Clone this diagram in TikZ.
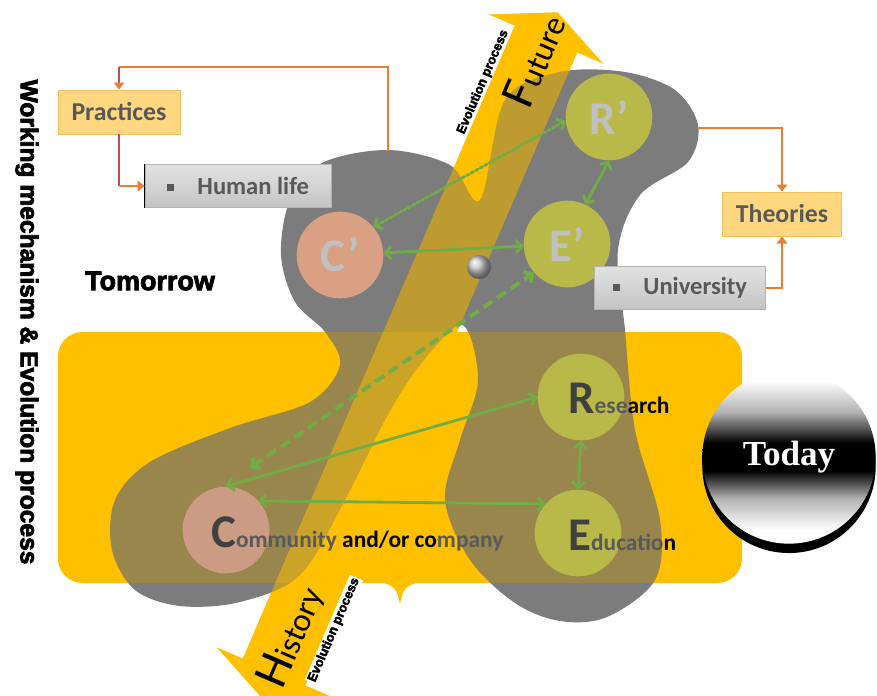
\documentclass[tikz,border=0pt]{standalone}
\usepackage{fontspec}
\setmainfont{Carlito}
\newfontfamily\heavyfont{Liberation Sans}[FakeBold=3]
\newfontfamily\todayfont{Liberation Serif}
\usetikzlibrary{arrows.meta}

\definecolor{gold}{HTML}{FFC000}
\definecolor{blobgray}{HTML}{6E6E6E}
\definecolor{peach}{HTML}{DAA084}
\definecolor{olive}{HTML}{B9B949}
\definecolor{linkgreen}{HTML}{70AD47}
\definecolor{linkorange}{HTML}{ED7D31}
\definecolor{linkred}{HTML}{C0504D}
\definecolor{notefill}{HTML}{FFD780}
\definecolor{noteedge}{HTML}{F2C05A}
\definecolor{itemtop}{HTML}{E2E2E2}
\definecolor{itembottom}{HTML}{C4C4C4}
\definecolor{textgray}{HTML}{595959}
\definecolor{lettergray}{HTML}{404040}
\definecolor{primegray}{HTML}{C0C0C0}

% time arrow, History (bottom) to Future (top)
\newcommand{\timearrow}{(557.5,12.3) -- (603,63.5) -- (577.2,52.4) -- (305.2,685.4) -- (331,696.5) -- (262.5,698.7) -- (217,647.5) -- (242.8,658.6) -- (514.8,25.6) -- (489,14.5) -- cycle}
\newcommand{\todayzone}{(58,332) rectangle (742,583)}

\pgfdeclareverticalshading{todayshade}{100bp}{color(0bp)=(white); color(29bp)=(white); color(38bp)=(gray!60); color(46bp)=(black); color(54bp)=(black); color(63bp)=(gray!60); color(72bp)=(white); color(100bp)=(white)}

\begin{document}
\begin{tikzpicture}[x=0.03cm, y=-0.03cm,
    ball/.style={circle, minimum size=2.6cm, inner sep=0pt, font=\bfseries\fontsize{40}{40}\selectfont},
    link/.style={draw=linkgreen, line width=2.4pt, >={Straight Barb[length=5pt,width=11pt]}, <->},
    feed/.style={draw=linkorange, line width=1.7pt},
    notebox/.style={rectangle, draw=noteedge, line width=0.8pt, fill=notefill, minimum height=1.32cm, text=textgray, font=\bfseries\fontsize{22}{22}\selectfont},
    itembox/.style={rectangle, draw=gray!60, line width=0.6pt, top color=itemtop, bottom color=itembottom, minimum height=1.29cm, text=textgray, font=\bfseries\fontsize{21}{21}\selectfont},
    onarrow/.style={rotate=66.75, inner sep=1pt}]
\useasboundingbox (0,0) rectangle (877,695);

% today zone
\fill[gold, rounded corners=21pt] \todayzone;
\fill[gold] (378,582) .. controls (394,584) and (398,590) .. (400,605) .. controls (402,590) and (406,584) .. (422,582) -- cycle;

% time arrow under the blob
\fill[gold] \timearrow;

% blob of the working mechanism
\fill[blobgray, opacity=0.9] plot[smooth cycle, tension=0.55] coordinates {
  (322,163) (388,150) (450,165) (480,200) (505,100) (560,72) (625,72) (675,90)
  (698,125) (688,162) (640,195) (618,250) (625,330) (635,430) (660,520) (655,580)
  (607,617) (560,621) (515,603) (470,560) (445,500) (460,440) (478,380) (462,325)
  (420,365) (385,420) (345,500) (300,575) (240,602) (180,606) (135,590) (112,550)
  (115,500) (150,462) (230,428) (310,402) (340,365) (325,332) (295,302) (281,255)
  (290,200)};

% zone and arrow shine through the blob
\fill[gold, opacity=0.22, rounded corners=21pt] \todayzone;
\fill[gold, opacity=0.5] \timearrow;

% actors
\node[ball, fill=peach, text=primegray] (cp) at (340,255) {C’};
\node[ball, fill=olive, text=primegray] (ep) at (567,244) {E’};
\node[ball, fill=olive, text=primegray] (rp) at (609,117) {R’};
\node[ball, fill=olive] (r) at (581,397) {};
\node[ball, fill=olive] (e) at (578,533) {};
\node[ball, fill=peach!85!gray] (c) at (226,530) {};
\node[circle, minimum size=0.72cm, inner sep=0pt, ball color=gray!45] (hub) at (479,267) {};

\node[anchor=base west, inner sep=0pt, font=\bfseries] (clabel) at (211,547)
  {{\fontsize{40}{40}\selectfont\color{lettergray}C}{\fontsize{20}{20}\selectfont\color{textgray}ommunity \color{black}and/or co\color{textgray}mpany}};
\node[anchor=base west, inner sep=0pt, font=\bfseries] (rlabel) at (568,413)
  {{\fontsize{40}{40}\selectfont\color{lettergray}R}{\fontsize{20}{20}\selectfont\color{textgray}ese\color{black}arch}};
\node[anchor=base west, inner sep=0pt, font=\bfseries] (elabel) at (568,550)
  {{\fontsize{40}{40}\selectfont\color{lettergray}E}{\fontsize{20}{20}\selectfont\color{textgray}ducatio\color{black}n}};

% relations
\coordinate (cdash) at (250,468);
\draw[link] (cp) -- (ep);
\draw[link, dotted, line cap=round] (cp.40) -- (rp.185);
\draw[link] (rp.south) -- (ep.65);
\draw[link, dashed, line width=3.4pt, dash pattern=on 9pt off 5pt] (cdash) -- (ep.221);
\draw[link] (c.north) -- (r.west);
\draw[link] (c.42) -- (e.138);
\draw[link] (r.south) -- (e.north);

% arrow texts
\node[onarrow] (future) at (534,60) {{\fontsize{42}{42}\selectfont F}{\fontsize{28}{28}\selectfont uture}};
\node[onarrow] (history) at (291,637) {{\fontsize{42}{42}\selectfont H}{\fontsize{28}{28}\selectfont istory}};
\node[onarrow, font=\heavyfont\bfseries\fontsize{11}{11}\selectfont] (evotop) at (483,82) {Evolution process};
\node[onarrow, fill=white, font=\heavyfont\bfseries\fontsize{11}{11}\selectfont] (evobottom) at (334,630) {Evolution process};

% practices and theories
\node[notebox, minimum width=3.66cm] (practices) at (119,112) {Practices};
\node[itembox, minimum width=5.58cm] (human) at (238,186) {\raisebox{3pt}{\rule{6pt}{6pt}}\hspace{20pt}Human life};
\draw[black, line width=1pt] (human.north west) -- (human.south west);
\node[notebox, minimum width=3.57cm] (theories) at (782,214) {Theories};
\node[itembox, minimum width=5.13cm] (university) at (680,288) {\raisebox{3pt}{\rule{6pt}{6pt}}\hspace{20pt}University};

\coordinate (cpeak) at (388,151);
\coordinate (cbend) at (388,67);
\coordinate (rpeak) at (698,128);
\draw[feed] (cpeak) -- (cbend) -- (cbend -| practices.north);
\draw[feed, draw=linkred, -{Triangle[length=6pt,width=9pt,color=linkorange]}] (cbend -| practices.north) -- (practices.north);
\draw[feed, draw=linkred] (practices.south) -- (practices.south |- human.west);
\draw[feed, -{Triangle[length=6pt,width=9pt]}] (practices.south |- human.west) -- (human.west);
\draw[feed, -{Triangle[length=6pt,width=9pt]}] (rpeak) -| (theories.north);
\draw[feed, -{Triangle[length=6pt,width=9pt]}] (university.east) -| (theories.south);

% today
\node[circle, minimum size=5.2cm, inner sep=0pt, shade, shading=todayshade,
  preaction={fill=black, transform canvas={yshift=-8pt}},
  text=white, font=\todayfont\bfseries\fontsize{30}{30}\selectfont] (today) at (789,457) {Today};

% titles
\node[rotate=-90, font=\heavyfont\bfseries\fontsize{21}{21}\selectfont] (title) at (27,322) {Working mechanism \& Evolution process};
\node[font=\heavyfont\bfseries\fontsize{23}{23}\selectfont] (tomorrow) at (150,281) {Tomorrow};
\end{tikzpicture}
\end{document}
